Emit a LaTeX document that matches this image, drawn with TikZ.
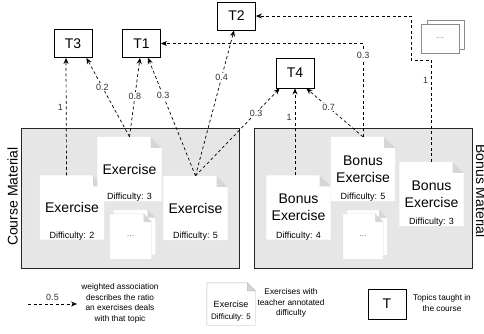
\documentclass[tikz,border=0pt]{standalone}
\usepackage{fontspec}
\setmainfont{Liberation Sans}
\usetikzlibrary{arrows.meta}
\pgfdeclarelayer{bg}
\pgfdeclarelayer{docs}
\pgfsetlayers{bg,docs,main}
\definecolor{panelgray}{HTML}{E6E6E6}
\definecolor{foldgray}{HTML}{D6D6D6}
\definecolor{lblgray}{HTML}{333333}
\newcommand{\docsheet}[3]{%
  \begin{pgfonlayer}{docs}
    \path[fill=white,draw=#3] (#1.north west) -- ([xshift=-#2]#1.north east) -- ([yshift=-#2]#1.north east) -- (#1.south east) -- (#1.south west) -- cycle;
    \path[fill=foldgray,draw=#3] ([xshift=-#2]#1.north east) -- ([xshift=-#2,yshift=-#2]#1.north east) -- ([yshift=-#2]#1.north east) -- cycle;
  \end{pgfonlayer}}
\tikzset{
  topic/.style={draw=black, line width=0.9pt, fill=white, minimum width=38pt, minimum height=28pt, inner sep=0pt, font=\fontsize{14}{16}\selectfont},
  sheet/.style={minimum width=64pt, minimum height=64pt, inner sep=0pt, align=center, font=\fontsize{14}{17}\selectfont},
  smallsheet/.style={minimum width=42pt, minimum height=45pt, inner sep=0pt, font=\fontsize{9}{11}\selectfont, text=black!50},
  diff/.style={font=\fontsize{9}{11}\selectfont, inner sep=0pt},
  assoc/.style={draw=black, line width=0.7pt, dash pattern=on 3pt off 2.5pt, -{Stealth[length=6pt,width=5pt]}},
  wlbl/.style={font=\fontsize{9}{11}\selectfont, text=lblgray, fill=white, inner sep=1pt},
  sidelbl/.style={font=\fontsize{9}{11}\selectfont, text=lblgray, inner sep=1pt},
  panel/.style={fill=panelgray, draw=black!85, line width=0.8pt, inner sep=0pt},
  paneltitle/.style={font=\fontsize{14}{16}\selectfont, inner sep=0pt},
  legendtext/.style={font=\fontsize{8.3}{10.5}\selectfont, align=center, inner sep=0pt},
  moresheet/.style={draw=black!45, line width=0.6pt, fill=white, minimum width=38pt, minimum height=29pt, inner sep=0pt, font=\fontsize{9}{11}\selectfont, text=black!50},
}
\begin{document}
\begin{tikzpicture}[x=1pt,y=-1pt]
\useasboundingbox (0,0) rectangle (484,333);

% panels
\begin{pgfonlayer}{bg}
  \node[panel, minimum width=218pt, minimum height=140pt] (course) at (130,198) {};
  \node[panel, minimum width=218pt, minimum height=140pt] (bonus) at (363,198) {};
\end{pgfonlayer}
\node[paneltitle, rotate=90] (coursetitle) at (12.5,196.5) {Course Material};
\node[paneltitle, rotate=-90] (bonustitle) at (481,191) {Bonus Material};

% topics
\node[topic] (T3) at (73,43.5) {T3};
\node[topic] (T1) at (141.5,43.5) {T1};
\node[topic] (T2) at (236.5,16) {T2};
\node[topic, minimum height=30pt] (T4) at (295,73) {T4};

% more topics stack
\node[moresheet, minimum width=37pt] (moreb) at (445.5,34.5) {};
\node[moresheet] (more) at (440,38.5) {...};

% course exercises
\node[sheet] (dA) at (72,207.5) {Exercise};
\node[diff] (dAd) at ([yshift=4pt]dA.south) {Difficulty: 2};
\node[sheet] (dB) at (129.5,169) {Exercise};
\node[diff] (dBd) at ([yshift=4pt]dB.south) {Difficulty: 3};
\node[sheet] (dC) at (195.5,208) {Exercise};
\node[diff] (dCd) at ([yshift=4pt]dC.south) {Difficulty: 5};
\node[smallsheet] (cstackb) at (134.5,232) {};
\node[smallsheet] (cstack) at (130.5,236.5) {...};
\docsheet{dA}{11pt}{none}
\docsheet{dB}{11pt}{none}
\docsheet{dC}{11pt}{none}
\docsheet{cstackb}{8pt}{black!12}
\docsheet{cstack}{8pt}{black!12}

% bonus exercises
\node[sheet] (dD) at (298.5,207.5) {Bonus\\Exercise};
\node[diff] (dDd) at ([yshift=4pt]dD.south) {Difficulty: 4};
\node[sheet] (dE) at (363,169) {Bonus\\Exercise};
\node[diff] (dEd) at ([yshift=4pt]dE.south) {Difficulty: 5};
\node[sheet] (dF) at (431.5,194) {Bonus\\Exercise};
\node[diff] (dFd) at ([yshift=4pt]dF.south) {Difficulty: 3};
\node[smallsheet, minimum width=40pt] (bstackb) at (367,232.5) {};
\node[smallsheet, minimum width=40pt] (bstack) at (363,236.5) {...};
\docsheet{dD}{11pt}{none}
\docsheet{dE}{11pt}{none}
\docsheet{dF}{11pt}{none}
\docsheet{bstackb}{8pt}{black!12}
\docsheet{bstack}{8pt}{black!12}

% associations
\draw[assoc] ([xshift=-5.5pt]dA.north) -- node[sidelbl,pos=0.58,left=2pt]{1} ([xshift=-7pt]T3.south);
\draw[assoc] (dB.north) -- node[wlbl,pos=0.63]{0.2} ([xshift=-6pt]T3.south east);
\draw[assoc] (dB.north) -- node[wlbl,pos=0.51]{0.8} ([xshift=-1.5pt]T1.south);
\draw[assoc] (dC.north) -- node[wlbl,pos=0.68]{0.3} ([xshift=6.5pt]T1.south);
\draw[assoc] (dC.north) -- node[wlbl,pos=0.68]{0.4} ([xshift=-2.5pt]T2.south);
\draw[assoc] (dC.north) -- node[wlbl,pos=0.72]{0.3} ([xshift=4pt]T4.south west);
\draw[assoc] (dD.north -| T4.south) -- node[sidelbl,pos=0.67,left=2pt]{1} (T4.south);
\draw[assoc] (dE.north) -- node[wlbl,pos=0.61]{0.7} ([xshift=-8pt]T4.south east);
\draw[assoc] (dE.north) |- node[wlbl,pos=0.435]{0.3} (T1.east);
\coordinate (bend) at (411,60);
\draw[assoc] (dF.north) |- node[sidelbl,pos=0.4,left=2pt]{1} (bend) |- (T2.east);

% legend
\coordinate (lg1) at (28,304);
\coordinate (lg2) at (77,304);
\draw[assoc] (lg1) -- node[sidelbl,above=2pt]{0.5} (lg2);
\node[legendtext] (lgt1) at (120,303.5) {weighted association\\describes the ratio\\an exercises deals\\with that topic};
\node[minimum width=48pt, minimum height=42pt, inner sep=0pt, font=\fontsize{9}{11}\selectfont] (lgdoc) at (231,304) {Exercise};
\node[diff, font=\fontsize{8}{10}\selectfont] (lgdocd) at ([yshift=8pt]lgdoc.south) {Difficulty: 5};
\docsheet{lgdoc}{8pt}{black!30}
\node[legendtext, align=center] (lgt2) at (291,303) {Exercises with\\teacher annotated\\difficulty};
\node[topic, minimum height=30pt] (lgT) at (387,304) {T};
\node[legendtext] (lgt3) at (442,303) {Topics taught in\\the course};
\end{tikzpicture}
\end{document}
